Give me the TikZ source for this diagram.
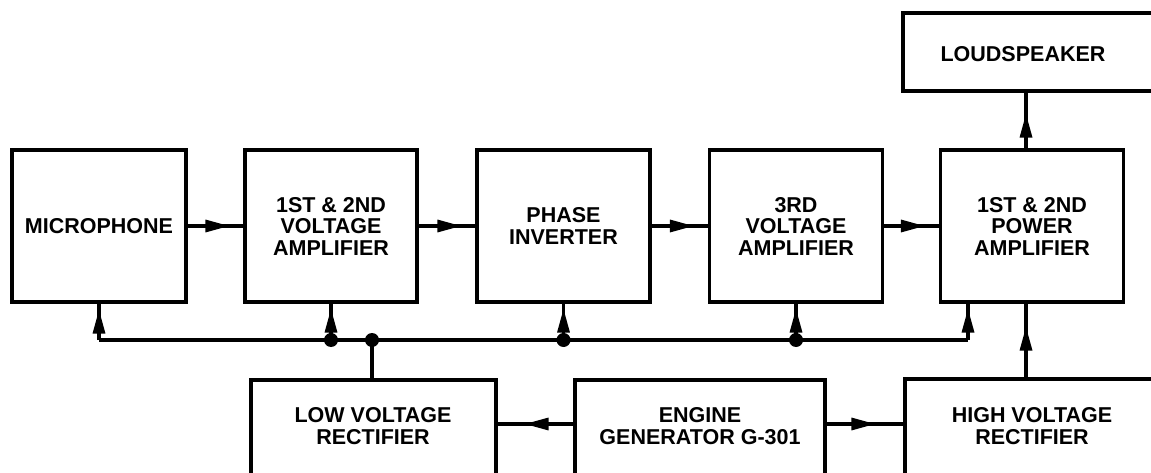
\documentclass[tikz,border=0pt]{standalone}
\usepackage{fontspec}
\setmainfont{Liberation Sans}
\usetikzlibrary{arrows.meta,decorations.markings}
\begin{document}
\begin{tikzpicture}[x=1pt,y=-1pt,
  wire/.style={line width=3.2pt},
  blk/.style={draw,line width=3.2pt,inner sep=0pt,align=center,
    font=\bfseries\fontsize{21.5}{21.5}\selectfont},
  lbl/.style={inner sep=0pt,align=center,
    font=\bfseries\fontsize{21.5}{21.5}\selectfont},
  tipat/.style={postaction={decorate},decoration={markings,
    mark=at position -#1 with {\arrow{Triangle[length=24pt,width=12pt]}}}},
  dot/.style={circle,fill,inner sep=0pt,minimum size=14pt}]
\useasboundingbox (0,0) rectangle (1151,473);
\fill[white] (0,0) rectangle (1151,473);
\clip (0,0) rectangle (1151,473);
% top row
\node[blk,minimum width=174pt,minimum height=152pt] (mic) at (99,226) {MICROPHONE};
\node[blk,minimum width=172pt,minimum height=152pt] (va) at (331,226) {1ST \& 2ND\\VOLTAGE\\AMPLIFIER};
\node[blk,minimum width=173pt,minimum height=152pt] (pi) at (563.5,226) {PHASE\\INVERTER};
\node[blk,minimum width=173pt,minimum height=152pt] (v3) at (796,226) {3RD\\VOLTAGE\\AMPLIFIER};
\node[blk,minimum width=183pt,minimum height=152pt] (pa) at (1032,226) {1ST \& 2ND\\POWER\\AMPLIFIER};
\node[blk,minimum width=260pt,minimum height=78pt] (ls) at (1033,52) {};
\node[lbl] (lst) at (1023,54) {LOUDSPEAKER};
% bottom row
\node[blk,minimum width=245pt,minimum height=180pt] (lv) at (373.5,470) {};
\node[lbl] (lvt) at (373,426) {LOW VOLTAGE\\RECTIFIER};
\node[blk,minimum width=250pt,minimum height=180pt] (eng) at (700,470) {};
\node[lbl] (engt) at (700,426) {ENGINE\\GENERATOR G-301};
\node[blk,minimum width=270pt,minimum height=180pt] (hv) at (1040,469) {};
\node[lbl] (hvt) at (1032,426) {HIGH VOLTAGE\\RECTIFIER};
% helper coordinates
\coordinate (bus) at (0,340);
\coordinate (ry) at (0,424);
\coordinate (lvtap) at (372,340);
\coordinate (pabus) at (968,340);
\coordinate (lsx) at (1026,0);
% signal chain
\draw[wire,tipat=14pt] (mic.east) -- (va.west);
\draw[wire,tipat=14pt] (va.east) -- (pi.west);
\draw[wire,tipat=14pt] (pi.east) -- (v3.west);
\draw[wire,tipat=14pt] (v3.east) -- (pa.west);
\draw[wire,tipat=21pt] (pa.north -| lsx) -- (ls.south -| lsx);
% power bus
\draw[wire] (mic.south |- bus) -- (pabus);
\draw[wire,tipat=6pt] (mic.south |- bus) -- (mic.south);
\draw[wire,tipat=5pt] (va.south |- bus) -- (va.south);
\draw[wire,tipat=5pt] (pi.south |- bus) -- (pi.south);
\draw[wire,tipat=5pt] (v3.south |- bus) -- (v3.south);
\draw[wire,tipat=5pt] (pabus) -- (pabus |- pa.south);
\node[dot] (d1) at (va.south |- bus) {};
\node[dot] (d2) at (lvtap) {};
\node[dot] (d3) at (pi.south |- bus) {};
\node[dot] (d4) at (v3.south |- bus) {};
\draw[wire] (d2.center) -- (lvtap |- lv.north);
% supply
\draw[wire,tipat=27pt] (eng.west |- ry) -- (lv.east |- ry);
\draw[wire,tipat=28pt] (eng.east |- ry) -- (hv.west |- ry);
\draw[wire,tipat=23pt] (hv.north -| lsx) -- (pa.south -| lsx);
\end{tikzpicture}
\end{document}
